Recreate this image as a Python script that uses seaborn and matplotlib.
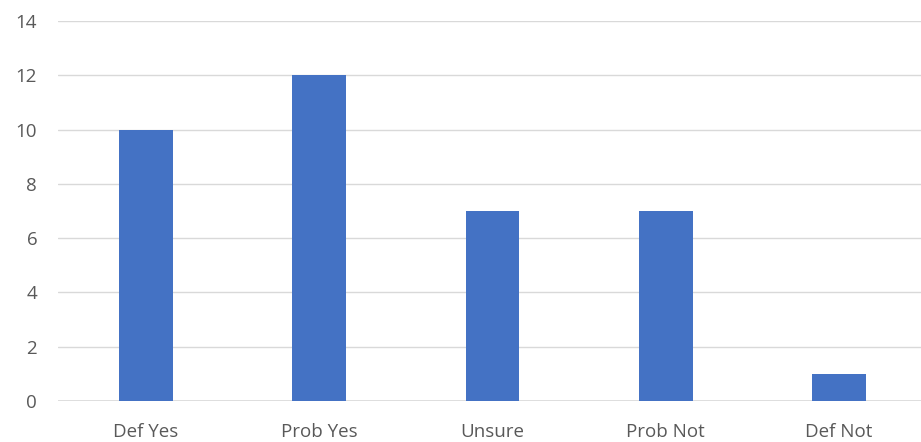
import matplotlib
matplotlib.use("Agg")
import matplotlib.pyplot as plt
import seaborn as sns
import pandas as pd

categories = ["Def Yes", "Prob Yes", "Unsure", "Prob Not", "Def Not"]
counts = [10, 12, 7, 7, 1]
y_ticks = [0, 2, 4, 6, 8, 10, 12, 14]

df = pd.DataFrame({"answer": categories, "count": counts})

sns.set_theme(style="white")
plt.rcParams["font.family"] = ["Open Sans", "DejaVu Sans"]

fig = plt.figure(figsize=(9.21, 4.42), dpi=100)
ax = fig.add_axes([58 / 921, 41 / 442, 863 / 921, 380 / 442])

sns.barplot(data=df, x="answer", y="count", color="#4472C4", saturation=1,
            width=0.31, linewidth=0, ax=ax, zorder=3)

ax.set_ylim(0, 14)
ax.set_yticks(y_ticks)
ax.set_xlim(-0.508, 4.473)
ax.yaxis.grid(True, color="#d9d9d9", linewidth=1.0, zorder=0)
ax.xaxis.grid(False)
ax.set_axisbelow(True)
for s in ax.spines.values():
    s.set_visible(False)
ax.axhline(0, color="#d9d9d9", linewidth=1.2, zorder=1)

ax.set_xlabel("")
ax.set_ylabel("")
ax.tick_params(axis="both", length=0, labelsize=13.5, colors="#595959")
ax.tick_params(axis="x", pad=16)
ax.tick_params(axis="y", pad=15)

fig.savefig("out.png", dpi=100)
